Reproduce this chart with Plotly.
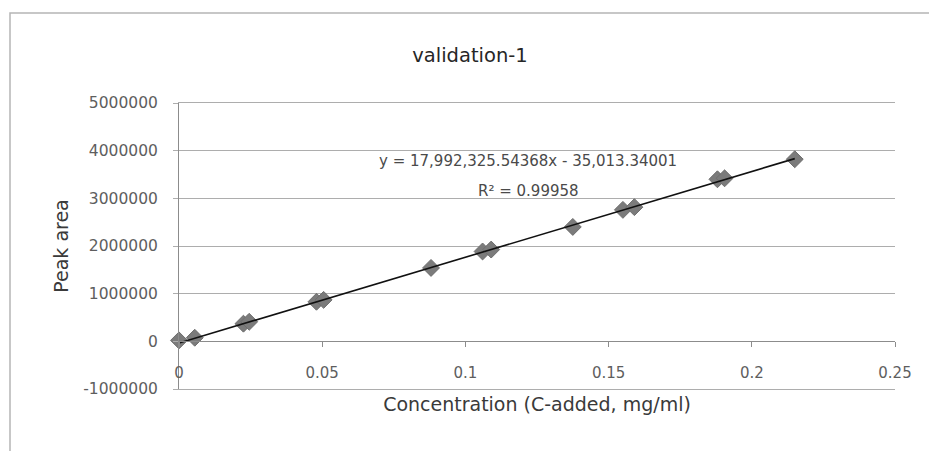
import numpy as np
import plotly.graph_objects as go

# data
conc = [0.0, 0.0055, 0.0225, 0.0245, 0.048, 0.0505, 0.088, 0.106, 0.109,
        0.1375, 0.155, 0.159, 0.188, 0.1905, 0.215]
area = [20000, 75000, 370000, 410000, 830000, 870000, 1540000, 1885000, 1925000,
        2400000, 2758000, 2815000, 3400000, 3420000, 3820000]
slope = 17992325.54368
intercept = -35013.34001
r2 = 0.99958
x_ticks = [0, 0.05, 0.1, 0.15, 0.2, 0.25]
y_ticks = [-1000000, 0, 1000000, 2000000, 3000000, 4000000, 5000000]

W, H = 929, 451
ml, mr, mt, mb = 179, 34, 103, 62
xr = [0, 0.25]
yr = [-1000000, 5000000]

grid = "#adadad"
tickc = "#5e5e5e"
font = "DejaVu Sans"

fit_x = np.array([min(conc), max(conc)])
fit_y = slope * fit_x + intercept

fig = go.Figure()
fig.add_trace(go.Scatter(x=conc, y=area, mode="markers", cliponaxis=False,
                         marker=dict(symbol="diamond", size=13, color="#7b7b7b",
                                     line=dict(color="#6e6e6e", width=1)),
                         showlegend=False))
fig.add_trace(go.Scatter(x=fit_x, y=fit_y, mode="lines", cliponaxis=False,
                         line=dict(color="#111111", width=1.6), showlegend=False))

zero_pos = (0 - yr[0]) / (yr[1] - yr[0])

fig.update_layout(
    width=W, height=H,
    margin=dict(l=ml, r=mr, t=mt, b=mb),
    paper_bgcolor="white", plot_bgcolor="white",
    font=dict(family=font, color=tickc),
    title=dict(text="validation-1", x=470 / W, xref="container", xanchor="center",
               y=1 - 55 / H, yref="container", yanchor="middle",
               font=dict(size=19.5, color="#262626", family=font)),
    xaxis=dict(range=xr, tickvals=x_ticks, ticktext=[f"{v:g}" for v in x_ticks],
               anchor="free", position=zero_pos,
               showline=True, linecolor="#8c8c8c", linewidth=1,
               ticks="outside", ticklen=5, tickcolor="#8c8c8c",
               ticklabelstandoff=13,
               showgrid=False, zeroline=False,
               tickfont=dict(size=15, color=tickc),
               title=dict(text="Concentration (C-added, mg/ml)", standoff=16,
                          font=dict(size=19, color="#3a3a3a"))),
    xaxis2=dict(range=xr, overlaying="x", anchor="y", side="bottom",
                showline=True, mirror=True, linecolor=grid, linewidth=1,
                showticklabels=False, ticks="", showgrid=False, zeroline=False),
    yaxis=dict(range=yr, tickvals=y_ticks, ticktext=[str(v) for v in y_ticks],
               showline=True, linecolor="#8c8c8c", linewidth=1,
               ticks="outside", ticklen=5, tickcolor=grid,
               ticklabelstandoff=12,
               showgrid=True, gridcolor=grid, gridwidth=1,
               zeroline=False,
               tickfont=dict(size=15.5, color=tickc),
               title=dict(text="Peak area", standoff=9,
                          font=dict(size=19, color="#3a3a3a"))),
    annotations=[
        dict(text=f"y = {slope:,.5f}x - {abs(intercept):,.5f}", xref="paper", yref="paper",
             x=(528 - ml) / (W - ml - mr), y=1 - (161 - mt) / (H - mt - mb),
             xanchor="center", yanchor="middle", showarrow=False,
             font=dict(size=15, color="#4a4a4a")),
        dict(text=f"R² = {r2}", xref="paper", yref="paper",
             x=(528 - ml) / (W - ml - mr), y=1 - (191 - mt) / (H - mt - mb),
             xanchor="center", yanchor="middle", showarrow=False,
             font=dict(size=15, color="#4a4a4a")),
    ],
    shapes=[dict(type="rect", xref="paper", yref="paper",
                 x0=(10 - ml) / (W - ml - mr), x1=1.2,
                 y0=-0.5, y1=1 + (mt - 13) / (H - mt - mb),
                 line=dict(color="#b5b5b5", width=1.5), layer="below")],
)
# dummy trace so xaxis2 renders
fig.add_trace(go.Scatter(x=[None], y=[None], xaxis="x2", showlegend=False))

fig.write_html("out.html")
